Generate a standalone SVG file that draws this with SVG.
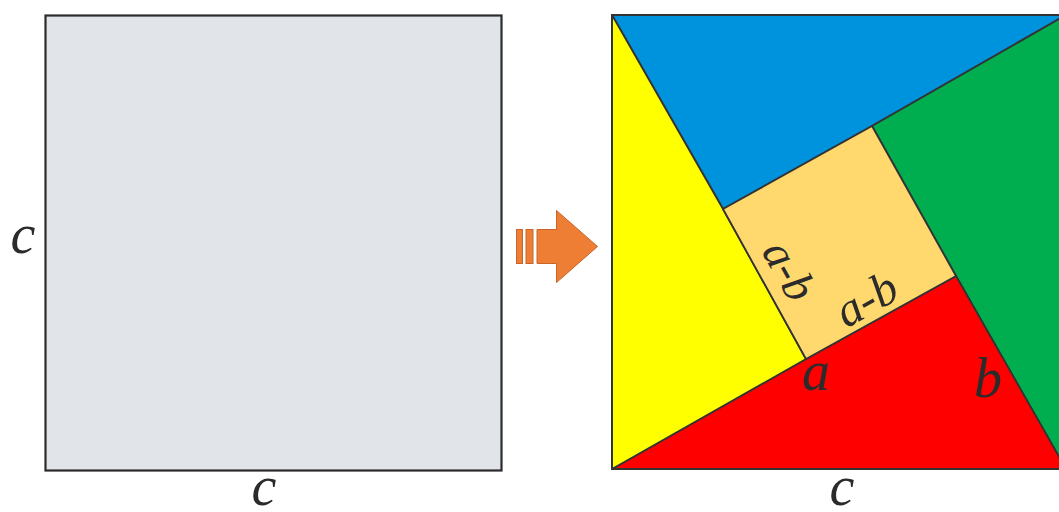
<svg xmlns="http://www.w3.org/2000/svg" width="1059" height="512" viewBox="0 0 1059 512">
<style>
.lbl{font-family:"Liberation Serif","Times New Roman",serif;font-style:italic;fill:#2b2b2b;text-anchor:middle}
.piece{stroke:#333;stroke-width:1.8;stroke-linejoin:round}
</style>
<rect width="1059" height="512" fill="#fff"/>
<g id="left-square">
<rect x="45.5" y="15.5" width="456" height="455" fill="#E1E5E9" stroke="#2b2b2b" stroke-width="2.2"/>
<text class="lbl" x="23" y="253" font-size="56">c</text>
<text class="lbl" x="264" y="505" font-size="56">c</text>
</g>
<g id="arrow" fill="#EE7E33" stroke="#C8642A" stroke-width="1">
<rect x="516.5" y="229.5" width="6" height="34"/>
<rect x="526" y="229.5" width="7" height="34"/>
<polygon points="537,229.5 556.5,229.5 556.5,210.5 597.5,246.5 556.5,282.5 556.5,263.5 537,263.5"/>
</g>
<g id="right-square">
<polygon id="blue" class="piece" fill="#0093DD" points="612,15 1066,15 872,126 723,209"/>
<polygon id="green" class="piece" fill="#00AE50" points="1066,15 1066,469 956,276 872,126"/>
<polygon id="red" class="piece" fill="#FF0000" points="612,469 1066,469 956,276 806,359"/>
<polygon id="yellow" class="piece" fill="#FFFF00" points="612,15 723,209 806,359 612,469"/>
<polygon id="tan" class="piece" fill="#FFD86E" points="723,209 872,126 956,276 806,359"/>
<rect x="612" y="15" width="454" height="454" fill="none" stroke="#333" stroke-width="2"/>
<text class="lbl" transform="translate(874,313) rotate(-29.4)" font-size="48">a-b</text>
<text class="lbl" transform="translate(776,278) rotate(60.6)" font-size="46">a-b</text>
<text class="lbl" x="816" y="390" font-size="56">a</text>
<text class="lbl" x="988" y="397" font-size="56">b</text>
<text class="lbl" x="842" y="505" font-size="56">c</text>
</g>
</svg>
